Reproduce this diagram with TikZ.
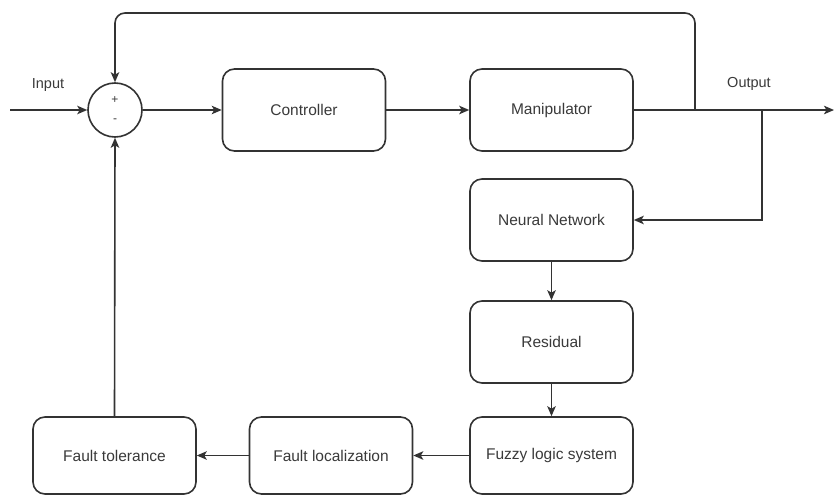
\documentclass[tikz,border=0pt]{standalone}
\usepackage{fontspec}
\setmainfont{Liberation Sans}
\usetikzlibrary{arrows.meta}
\definecolor{ln}{HTML}{333333}
\definecolor{tx}{HTML}{3A3A3A}
\tikzset{
  blk/.style={draw=ln, line width=1.6pt, rounded corners=12pt, minimum width=163pt, minimum height=82pt, inner sep=0pt, text=tx, font=\fontsize{15.5}{18}\selectfont},
  blkb/.style={blk, minimum height=77pt},
  sumc/.style={draw=ln, line width=1.6pt, circle, minimum size=54pt, inner sep=0pt},
  conn/.style={draw=ln, line width=1.6pt, -{Stealth[length=10pt,width=8.5pt,inset=2.5pt]}},
  lbl/.style={text=tx, font=\fontsize{14.5}{17}\selectfont},
  sgn/.style={text=tx, font=\fontsize{12}{13}\selectfont, inner sep=0pt}
}
\begin{document}
\begin{tikzpicture}[x=1pt,y=-1pt]
\fill[white] (0,0) rectangle (834,495);
\useasboundingbox (0,0) rectangle (834,495);
\node[sgn] (plus) at (115,100) {+};
\node[sgn] (minus) at (115,121) {-};
\node[sumc] (sum) at (115,110) {};
\node[blk] (ctrl) at (304,110) {Controller};
\node[blk] (manip) at (551.5,110) {Manipulator};
\node[blk] (nn) at (551.5,220) {Neural Network};
\node[blk] (res) at (551.5,342) {Residual};
\node[blkb] (fuzzy) at (551.5,455.5) {Fuzzy logic system};
\node[blkb] (floc) at (331,455.5) {Fault localization};
\node[blkb] (ftol) at (114.5,455.5) {Fault tolerance};
\node[lbl] (inlbl) at (48,85) {Input};
\node[lbl] (outlbl) at (749,84) {Output};
\coordinate (in) at (10,110);
\coordinate (out) at (834,110);
\coordinate (fb) at (695,110);
\coordinate (br) at (762,110);
\draw[conn] (in) -- (sum.west);
\draw[conn] (sum.east) -- (ctrl.west);
\draw[conn] (ctrl.east) -- (manip.west);
\draw[conn] (manip.east) -- (out);
\draw[conn, rounded corners=10pt] (fb) -- (695,13) -- (115,13) -- (sum.north);
\draw[conn] (br) -- (br |- nn.east) -- (nn.east);
\draw[conn] (nn.south) -- (res.north);
\draw[conn] (res.south) -- (fuzzy.north);
\draw[conn] (fuzzy.west) -- (floc.east);
\draw[conn] (floc.west) -- (ftol.east);
\draw[conn] (ftol.north) -- (sum.south);
\end{tikzpicture}
\end{document}
